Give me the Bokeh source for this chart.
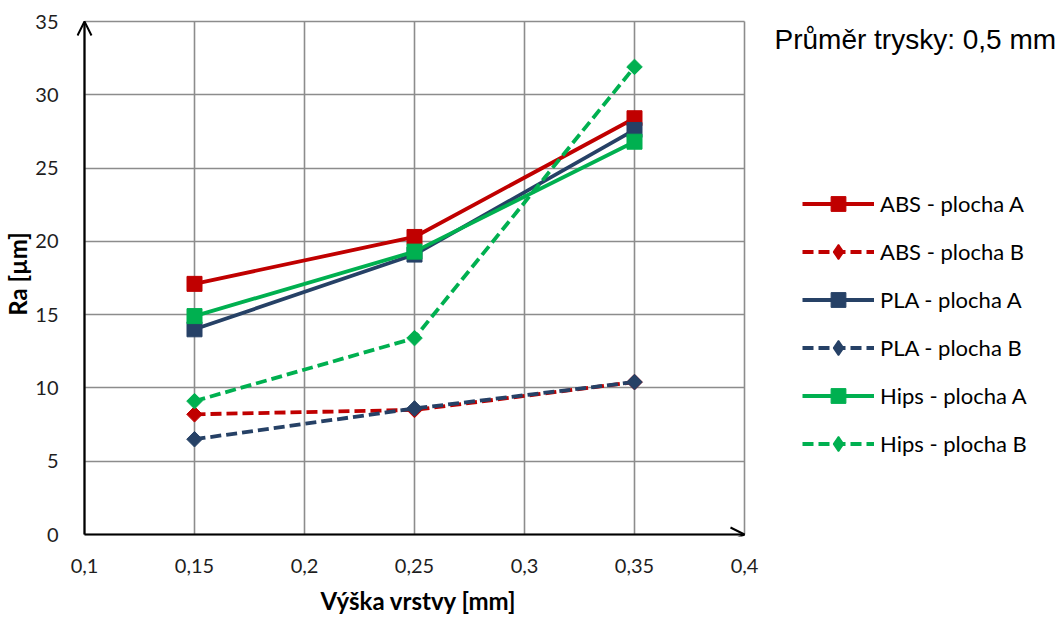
import numpy as np
from bokeh.plotting import figure
from bokeh.models import (Legend, LegendItem, Label, Arrow, OpenHead, FixedTicker,
                          CustomJSTickFormatter, Grid, Title)
from bokeh.embed import file_html
from bokeh.resources import INLINE

# ---- data ----
layer_height = [0.15, 0.25, 0.35]
abs_a = [17.1, 20.3, 28.4]
abs_b = [8.2, 8.5, 10.4]
pla_a = [14.0, 19.1, 27.6]
pla_b = [6.5, 8.6, 10.4]
hips_a = [14.9, 19.3, 26.8]
hips_b = [9.1, 13.4, 31.9]
series_names = ["ABS - plocha A", "ABS - plocha B", "PLA - plocha A",
                "PLA - plocha B", "Hips - plocha A", "Hips - plocha B"]
x_ticks = [0.1, 0.15, 0.2, 0.25, 0.3, 0.35, 0.4]
y_ticks = [0, 5, 10, 15, 20, 25, 30, 35]
x_title = "Výška vrstvy [mm]"
y_title = "Ra [µm]"
note_text = "Průměr trysky: 0,5 mm"

RED = "#C00000"
NAVY = "#264166"
GREEN = "#00B050"
FONT = "Lato"

x0, x1 = x_ticks[0], x_ticks[-1]
y0, y1 = y_ticks[0], y_ticks[-1]

# pixel scale of the plotting area
PX_X = 2200.0          # px per x unit
PX_Y = 513.0 / 35.0    # px per y unit
FW, FH = 980, 525
xs = x0 - 8 / PX_X
xe = xs + FW / PX_X
ys = y0 - 2 / PX_Y
ye = ys + FH / PX_Y

p = figure(frame_width=FW, frame_height=FH, x_range=(xs, xe), y_range=(ys, ye),
           output_backend="svg", toolbar_location=None,
           min_border_left=70, min_border_top=11, min_border_right=0, min_border_bottom=4)
p.outline_line_color = None
p.background_fill_color = "white"
p.border_fill_color = "white"

p.xaxis.ticker = FixedTicker(ticks=x_ticks)
p.yaxis.ticker = FixedTicker(ticks=y_ticks)
fmt = CustomJSTickFormatter(code="""
let s = (Math.round(tick*100)/100).toString();
return s.replace('.', ',');
""")
p.xaxis.formatter = fmt
p.yaxis.formatter = fmt

for ax in (p.xaxis[0], p.yaxis[0]):
    ax.axis_line_color = None
    ax.major_tick_line_color = None
    ax.minor_tick_line_color = None
    ax.major_label_text_font = FONT
    ax.major_label_text_font_size = "20px"
    ax.major_label_text_color = "#1E1E1E"
    ax.axis_label_text_font = FONT
    ax.axis_label_text_font_size = "24px"
    ax.axis_label_text_font_style = "bold"
    ax.axis_label_text_color = "#000000"
p.xaxis.major_label_standoff = 16
p.yaxis.major_label_standoff = 12
p.yaxis.axis_label = y_title
p.yaxis.axis_label_standoff = 0

# x-axis title centred under the data area (0.1 .. 0.4)
xt = Title(text=x_title, align="left", offset=244, standoff=17,
           text_font=FONT, text_font_size="24px", text_font_style="bold",
           text_color="#000000")
p.add_layout(xt, "below")

# grid limited to the data area
p.xgrid.visible = False
p.ygrid.visible = False
has_cross = "cross_bounds" in Grid.properties()
if has_cross:
    gx = Grid(dimension=0, ticker=FixedTicker(ticks=x_ticks), cross_bounds=(y0, y1))
    gy = Grid(dimension=1, ticker=FixedTicker(ticks=y_ticks), cross_bounds=(x0, x1))
    for g in (gx, gy):
        g.grid_line_color = "#8C8C8C"
        g.grid_line_width = 1.6
        p.add_layout(g)
else:
    p.segment(x0=x_ticks, y0=[y0] * len(x_ticks), x1=x_ticks, y1=[y1] * len(x_ticks),
              line_color="#8C8C8C", line_width=1.6)
    p.segment(x0=[x0] * len(y_ticks), y0=y_ticks, x1=[x1] * len(y_ticks), y1=y_ticks,
              line_color="#8C8C8C", line_width=1.6)

specs = [
    (abs_a, RED, "solid", "square"),
    (abs_b, RED, "11 5", "diamond"),
    (pla_a, NAVY, "solid", "square"),
    (pla_b, NAVY, "11 5", "diamond"),
    (hips_a, GREEN, "solid", "square"),
    (hips_b, GREEN, "11 5", "diamond"),
]
items = []
for name, (vals, col, dash, mk) in zip(series_names, specs):
    ln = p.line(layer_height, vals, line_color=col, line_width=3.8, line_dash=dash)
    if mk == "square":
        sc = p.scatter(layer_height, vals, marker="square", size=15,
                       fill_color=col, line_color=col)
        items.append(LegendItem(label=name, renderers=[ln, sc]))
    else:
        sc = p.scatter(layer_height, vals, marker="square", size=11, angle=np.pi / 4,
                       fill_color=col, line_color=col)
        # legend-only marker (the legend ignores glyph angle); invisible in the plot
        lg = p.scatter(layer_height, vals, marker="diamond", size=0,
                       fill_color=col, line_color=col, line_width=1.5)
        items.append(LegendItem(label=name, renderers=[ln, lg]))

legend = Legend(items=items, location=(726, 74), orientation="vertical")
legend.glyph_width = 72
legend.glyph_height = 37
legend.label_height = 37
legend.spacing = 11
legend.padding = 0
legend.margin = 0
legend.label_standoff = 6
legend.label_text_font = FONT
legend.label_text_font_size = "22px"
legend.label_text_color = "#000000"
legend.border_line_color = None
legend.background_fill_alpha = 0
p.add_layout(legend, "center")

# axes with arrowheads
p.add_layout(Arrow(end=OpenHead(size=14, line_width=2, line_color="black"),
                   x_start=x0, y_start=y0, x_end=x0, y_end=y1,
                   line_width=2.2, line_color="black"))
p.add_layout(Arrow(end=OpenHead(size=14, line_width=2, line_color="black"),
                   x_start=x0, y_start=y0, x_end=x1, y_end=y0,
                   line_width=2.2, line_color="black"))

p.add_layout(Label(x=x1 + 30 / PX_X, y=y1 - 18 / PX_Y, text=note_text,
                   text_font="Liberation Sans", text_font_size="28px",
                   text_color="#000000", text_align="left", text_baseline="middle"))

open("out.html", "w").write(file_html(p, INLINE))
